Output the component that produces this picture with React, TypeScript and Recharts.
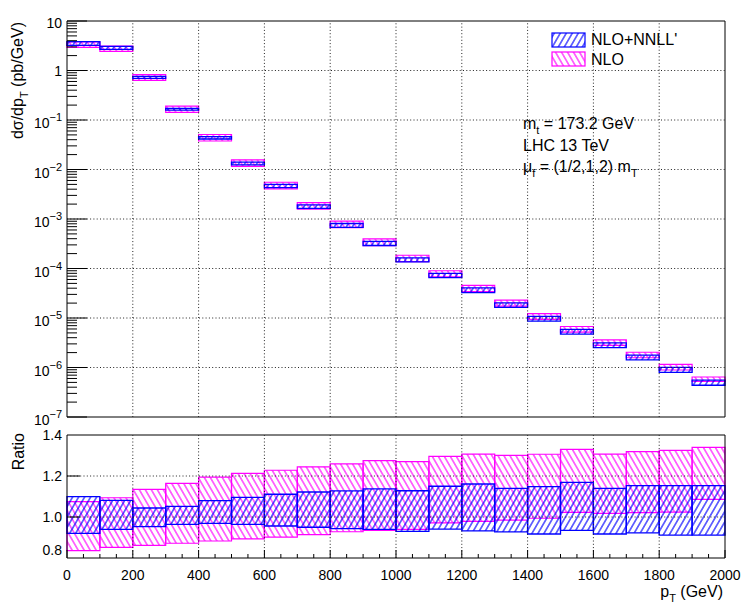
import React from 'react';
import { ComposedChart, XAxis, YAxis, ReferenceArea, ReferenceLine, Line } from 'recharts';

// ---------- data ----------
const binLow = [0, 100, 200, 300, 400, 500, 600, 700, 800, 900, 1000, 1100, 1200, 1300, 1400, 1500, 1600, 1700, 1800, 1900];
const binHigh = [100, 200, 300, 400, 500, 600, 700, 800, 900, 1000, 1100, 1200, 1300, 1400, 1500, 1600, 1700, 1800, 1900, 2000];

// dsigma/dpT central values (pb/GeV)
const centralXsec = [3.5, 2.85, 0.73, 0.164, 0.0426, 0.0129, 0.0045, 0.00172, 7.2e-4, 3.1e-4, 1.46e-4, 6.95e-5, 3.5e-5, 1.77e-5, 9.4e-6, 5.06e-6, 2.76e-6, 1.54e-6, 8.7e-7, 4.8e-7];

// ratio bands
const nnllLo = [0.92, 0.94, 0.953, 0.964, 0.969, 0.964, 0.956, 0.95, 0.943, 0.94, 0.93, 0.941, 0.932, 0.927, 0.917, 0.935, 0.917, 0.923, 0.912, 0.912];
const nnllHi = [1.099, 1.081, 1.044, 1.052, 1.08, 1.096, 1.111, 1.122, 1.127, 1.137, 1.128, 1.15, 1.161, 1.14, 1.148, 1.169, 1.14, 1.153, 1.153, 1.153];
const nloLo = [0.836, 0.852, 0.862, 0.872, 0.883, 0.893, 0.902, 0.914, 0.928, 0.935, 0.94, 0.971, 0.979, 0.985, 0.994, 1.023, 1.018, 1.021, 1.024, 1.086];
const nloHi = [1.075, 1.094, 1.135, 1.164, 1.195, 1.213, 1.228, 1.245, 1.259, 1.275, 1.27, 1.296, 1.307, 1.301, 1.306, 1.33, 1.307, 1.319, 1.325, 1.34];

// ---------- ticks ----------
const xTicks: number[] = [];
for (let v = 0; v <= 2000; v += 50) xTicks.push(v);
const xGrid = [200, 400, 600, 800, 1000, 1200, 1400, 1600, 1800];
const logTicks: number[] = [];
for (let e = -7; e <= 0; e++) {
  for (let m = 1; m <= 9; m++) logTicks.push(m * Math.pow(10, e));
}
logTicks.push(10);
const logGrid = [1e-6, 1e-5, 1e-4, 1e-3, 1e-2, 1e-1, 1];
const ratioTicks = [0.8, 1.0, 1.2, 1.4];
const ratioGrid = [1.0, 1.2];

const FONT = "'Liberation Sans', Arial, Helvetica, sans-serif";
const BLUE = '#0000ff';
const MAG = '#ff00ff';
const GRID_DASH = '1 2.3';
const GRID_COLOR = '#222';

const topData = binLow.map((lo, i) => ({ x: (lo + binHigh[i]) / 2, y: centralXsec[i] }));
const ratioData = binLow.map((lo, i) => ({ x: (lo + binHigh[i]) / 2, r: 1 }));

const supMinus = '\u2212';

const LogYTick = (props: any) => {
  const { x, y, payload } = props;
  const v = payload.value as number;
  const e = Math.round(Math.log10(v));
  const isMajor = Math.abs(v - Math.pow(10, e)) / v < 1e-6;
  let label: React.ReactNode = null;
  if (isMajor) {
    if (e === 1) {
      label = (
        <text x={x - 5} y={y + 7} textAnchor="end" fontSize={14} fontFamily={FONT} fill="#000">10</text>
      );
    } else if (e === 0) {
      label = (
        <text x={x - 5} y={y + 5} textAnchor="end" fontSize={14} fontFamily={FONT} fill="#000">1</text>
      );
    } else {
      label = (
        <text x={x - 5} y={y + 8} textAnchor="end" fontSize={14} fontFamily={FONT} fill="#000">
          10<tspan dy={-7} fontSize={11}>{supMinus + String(-e)}</tspan>
        </text>
      );
    }
  }
  return (
    <g>
      <line x1={x} x2={x + (isMajor ? 20 : 10)} y1={y} y2={y} stroke="#000" strokeWidth={1} />
      {label}
    </g>
  );
};

const TopXTick = (props: any) => {
  const { x, y, payload } = props;
  const v = payload.value as number;
  const major = v % 200 === 0;
  return <line x1={x} x2={x} y1={y} y2={y - (major ? 12 : 6)} stroke="#000" strokeWidth={1} />;
};

const RatioXTick = (props: any) => {
  const { x, y, payload } = props;
  const v = payload.value as number;
  const major = v % 200 === 0;
  return (
    <g>
      <line x1={x} x2={x} y1={y} y2={y - (major ? 8 : 4)} stroke="#000" strokeWidth={1} />
      {major && (
        <text x={x} y={y + 22} textAnchor="middle" fontSize={14} fontFamily={FONT} fill="#000">{String(v)}</text>
      )}
    </g>
  );
};

const RatioYTick = (props: any) => {
  const { x, y, payload } = props;
  const v = payload.value as number;
  const bottom = Math.abs(v - 0.8) < 1e-6;
  return (
    <g>
      {!bottom && Math.abs(v - 1.4) > 1e-6 && (
        <line x1={x} x2={x + 13} y1={y} y2={y} stroke="#000" strokeWidth={1} />
      )}
      <text x={x - 5} y={bottom ? y - 3 : y + 5} textAnchor="end" fontSize={14} fontFamily={FONT} fill="#000">
        {v.toFixed(1)}
      </text>
    </g>
  );
};

const Patterns = ({ suffix }: { suffix: string }) => (
  <defs>
    <pattern id={'hatchBlue' + suffix} patternUnits="userSpaceOnUse" width={5.2} height={10} patternTransform="rotate(30)">
      <line x1={2.6} y1={0} x2={2.6} y2={10} stroke={BLUE} strokeWidth={1.1} />
    </pattern>
    <pattern id={'hatchMag' + suffix} patternUnits="userSpaceOnUse" width={5.2} height={10} patternTransform="rotate(-30)">
      <line x1={2.6} y1={0} x2={2.6} y2={10} stroke={MAG} strokeWidth={1.1} />
    </pattern>
  </defs>
);

export default function App() {
  return (
    <div style={{ position: 'absolute', left: 0, top: 0, width: 747, height: 614, background: '#fff' }}>
      {/* ---------- top panel ---------- */}
      <div style={{ position: 'absolute', left: 0, top: 0 }}>
        <ComposedChart width={747} height={430} data={topData} margin={{ top: 21, right: 22, left: 7, bottom: 13 }}>
          <Patterns suffix="T" />
          <XAxis
            dataKey="x"
            type="number"
            domain={[0, 2000]}
            ticks={xTicks}
            interval={0}
            height={0}
            tickSize={0}
            tickMargin={0}
            axisLine={false}
            tick={(p: any) => <TopXTick {...p} />}
          />
          <YAxis
            type="number"
            scale="log"
            domain={[1e-7, 10]}
            allowDataOverflow
            ticks={logTicks}
            interval={0}
            width={60}
            tickSize={0}
            tickMargin={0}
            axisLine={false}
            tick={(p: any) => <LogYTick {...p} />}
          />
          {xGrid.map((v) => (
            <ReferenceLine key={'gx' + v} x={v} stroke={GRID_COLOR} strokeDasharray={GRID_DASH} strokeWidth={1} />
          ))}
          {logGrid.map((v) => (
            <ReferenceLine key={'gy' + v} y={v} stroke={GRID_COLOR} strokeDasharray={GRID_DASH} strokeWidth={1} />
          ))}
          {binLow.map((lo, i) => (
            <ReferenceArea
              key={'tm' + i}
              x1={lo}
              x2={binHigh[i]}
              y1={centralXsec[i] * nloLo[i]}
              y2={centralXsec[i] * nloHi[i]}
              fill="url(#hatchMagT)"
              fillOpacity={1}
              stroke={MAG}
              strokeWidth={1.2}
            />
          ))}
          {binLow.map((lo, i) => (
            <ReferenceArea
              key={'tb' + i}
              x1={lo}
              x2={binHigh[i]}
              y1={centralXsec[i] * nnllLo[i]}
              y2={centralXsec[i] * nnllHi[i]}
              fill="url(#hatchBlueT)"
              fillOpacity={1}
              stroke={BLUE}
              strokeWidth={1.3}
            />
          ))}
          <Line dataKey="y" stroke="none" dot={false} activeDot={false} isAnimationActive={false} />
          <ReferenceArea x1={0} x2={2000} y1={1e-7} y2={10} fill="none" stroke="#000" strokeWidth={1} />
          {/* axis title */}
          <text transform="rotate(-90)" x={-22} y={23} textAnchor="end" fontSize={16} fontFamily={FONT} fill="#000">
            dσ/dp<tspan dy={5} fontSize={11}>T</tspan><tspan dy={-5}>{'  (pb/GeV)'}</tspan>
          </text>
          {/* legend */}
          <rect x={552} y={33} width={33} height={14} fill="url(#hatchBlueT)" stroke={BLUE} strokeWidth={1.2} />
          <text x={591} y={45} fontSize={16} fontFamily={FONT} fill="#000">NLO+NNLL'</text>
          <rect x={552} y={52} width={33} height={14} fill="url(#hatchMagT)" stroke={MAG} strokeWidth={1.2} />
          <text x={591} y={64.5} fontSize={16} fontFamily={FONT} fill="#000">NLO</text>
          {/* annotations */}
          <text x={523} y={129} fontSize={16} fontFamily={FONT} fill="#000">
            m<tspan dy={5} fontSize={11}>t</tspan><tspan dy={-5}>{' = 173.2 GeV'}</tspan>
          </text>
          <text x={523} y={151} fontSize={16} fontFamily={FONT} fill="#000">LHC 13 TeV</text>
          <text x={523} y={172} fontSize={16} fontFamily={FONT} fill="#000">
            μ<tspan dy={5} fontSize={11}>f</tspan><tspan dy={-5}>{' =  (1/2,1,2) m'}</tspan><tspan dy={5} fontSize={11}>T</tspan>
          </text>
        </ComposedChart>
      </div>

      {/* ---------- ratio panel ---------- */}
      <div style={{ position: 'absolute', left: 0, top: 420 }}>
        <ComposedChart width={747} height={194} data={ratioData} margin={{ top: 15, right: 22, left: 7, bottom: 0 }}>
          <Patterns suffix="R" />
          <XAxis
            dataKey="x"
            type="number"
            domain={[0, 2000]}
            ticks={xTicks}
            interval={0}
            height={56}
            tickSize={0}
            tickMargin={0}
            axisLine={false}
            tick={(p: any) => <RatioXTick {...p} />}
          />
          <YAxis
            type="number"
            domain={[0.8, 1.4]}
            allowDataOverflow
            ticks={ratioTicks}
            interval={0}
            width={60}
            tickSize={0}
            tickMargin={0}
            axisLine={false}
            tick={(p: any) => <RatioYTick {...p} />}
          />
          {xGrid.map((v) => (
            <ReferenceLine key={'rgx' + v} x={v} stroke={GRID_COLOR} strokeDasharray={GRID_DASH} strokeWidth={1} />
          ))}
          {ratioGrid.map((v) => (
            <ReferenceLine key={'rgy' + v} y={v} stroke={GRID_COLOR} strokeDasharray={GRID_DASH} strokeWidth={1} />
          ))}
          {binLow.map((lo, i) => (
            <ReferenceArea
              key={'rm' + i}
              x1={lo}
              x2={binHigh[i]}
              y1={nloLo[i]}
              y2={nloHi[i]}
              fill="url(#hatchMagR)"
              fillOpacity={1}
              stroke={MAG}
              strokeWidth={1.2}
            />
          ))}
          {binLow.map((lo, i) => (
            <ReferenceArea
              key={'rb' + i}
              x1={lo}
              x2={binHigh[i]}
              y1={nnllLo[i]}
              y2={nnllHi[i]}
              fill="url(#hatchBlueR)"
              fillOpacity={1}
              stroke={BLUE}
              strokeWidth={1.3}
            />
          ))}
          <Line dataKey="r" stroke="none" dot={false} activeDot={false} isAnimationActive={false} />
          <ReferenceArea x1={0} x2={2000} y1={0.8} y2={1.4} fill="none" stroke="#000" strokeWidth={1} />
          <text transform="rotate(-90)" x={-13} y={24} textAnchor="end" fontSize={16} fontFamily={FONT} fill="#000">
            Ratio
          </text>
          <text x={723} y={177} textAnchor="end" fontSize={16} fontFamily={FONT} fill="#000">
            p<tspan dy={5} fontSize={11}>T</tspan><tspan dy={-5}>{' (GeV)'}</tspan>
          </text>
        </ComposedChart>
      </div>
    </div>
  );
}
